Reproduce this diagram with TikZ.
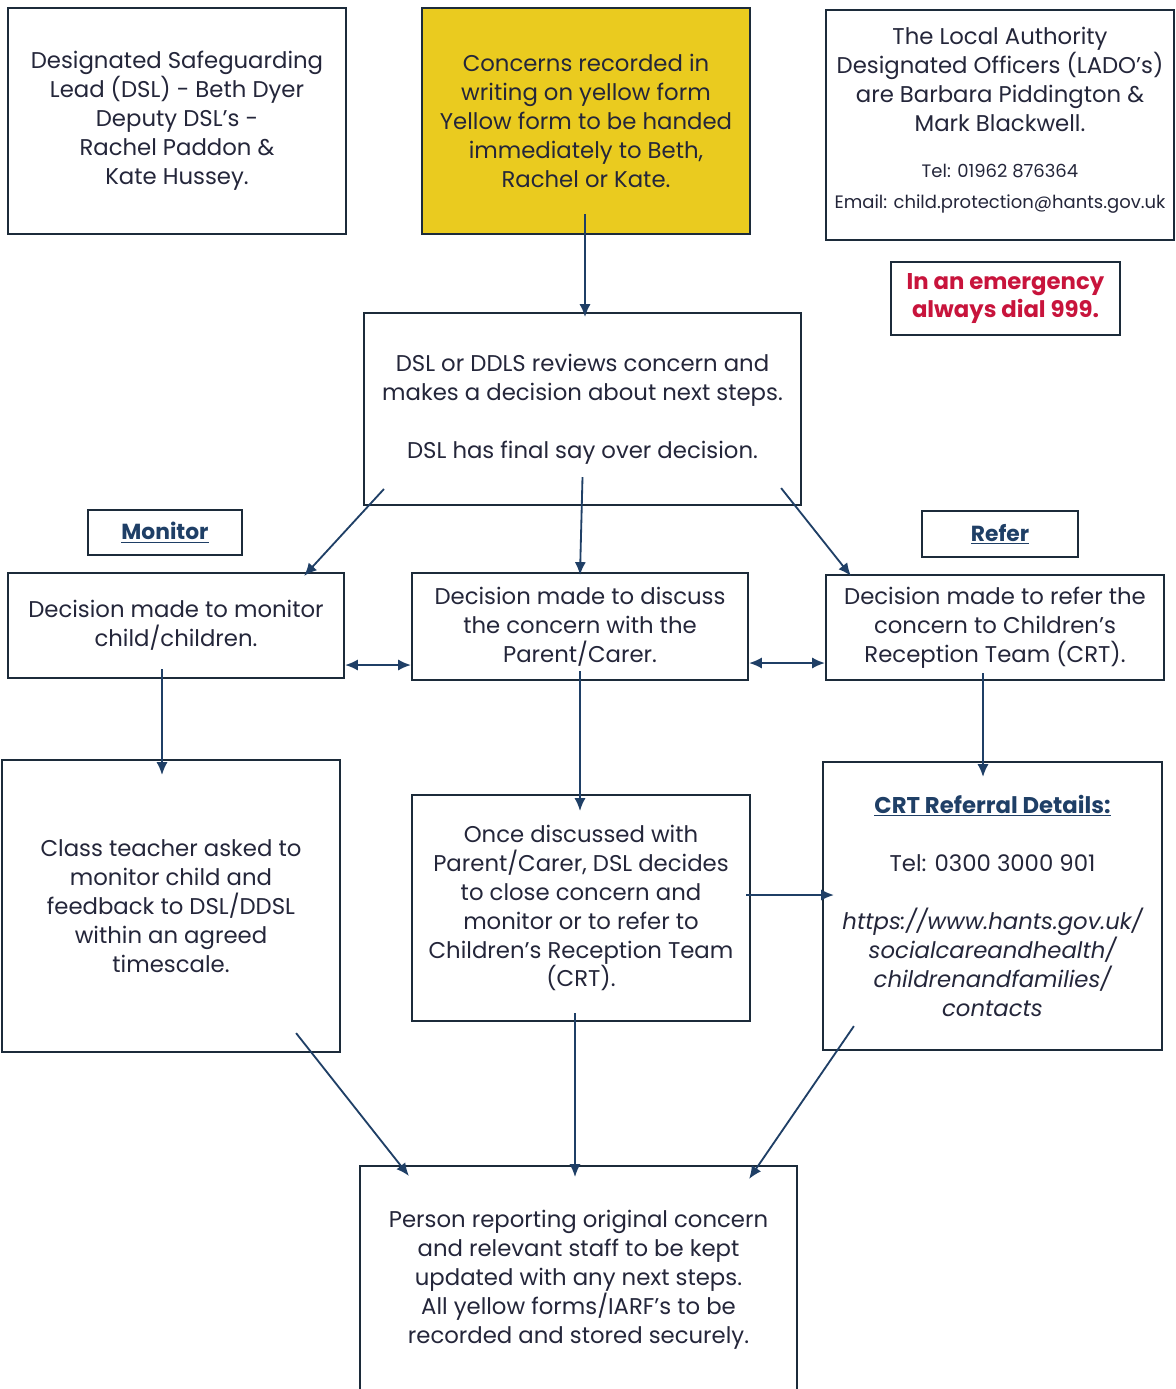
\documentclass[tikz,border=0pt]{standalone}
\usepackage{fontspec}
\setmainfont{Poppins}
\usetikzlibrary{arrows.meta}
\tikzset{>={Latex[width=2.8mm,length=3.2mm]}}
\definecolor{boxline}{HTML}{1C2B3A}
\definecolor{arrowline}{HTML}{1F3F66}
\definecolor{boxtext}{HTML}{24263A}
\definecolor{formyellow}{HTML}{EACB1F}
\definecolor{alertred}{HTML}{C8143C}

\begin{document}
\begin{tikzpicture}[x=0.025cm, y=-0.025cm, font=\fontsize{16.2}{20.6}\selectfont, box/.style={draw=boxline, line width=1.5pt, text=boxtext, align=center, inner sep=0pt}, yellowbox/.style={box, fill=formyellow}, tagbox/.style={box, font=\fontsize{15.5}{20.6}\selectfont\bfseries, text=arrowline}, redbox/.style={box, font=\fontsize{16.2}{20.6}\selectfont\bfseries, text=alertred}, link/.style={draw=arrowline, line width=1.3pt, ->}]

    \clip (0,0) rectangle (1176,1389);
    \fill[white] (0,0) rectangle (1176,1389);

    %Top row
    \node[box, minimum width=8.45cm, minimum height=5.65cm](dsl) at (177,121){Designated Safeguarding\\Lead (DSL) - Beth Dyer\\Deputy DSL's -\\Rachel Paddon \&\\Kate Hussey.};
    \node[yellowbox, minimum width=8.2cm, minimum height=5.65cm](concerns) at (586,121){Concerns recorded in\\writing on yellow form\\Yellow form to be handed\\immediately to Beth,\\Rachel or Kate.};
    \node[box, minimum width=8.7cm, minimum height=5.75cm](lado) at (1000,125){The Local Authority\\Designated Officers (LADO's)\\are Barbara Piddington \&\\Mark Blackwell.\\[0.42cm]{\fontsize{12.8}{16}\selectfont Tel: 01962 876364}\\[0.05cm]{\fontsize{12.8}{16}\selectfont Email: child.protection@hants.gov.uk}\\[-0.35cm]};
    \node[redbox, minimum width=5.725cm, minimum height=1.825cm](emergency) at (1005.5,298.5){In an emergency\\always dial 999.};

    %Review
    \node[box, minimum width=10.925cm, minimum height=4.8cm](review) at (582.5,409){DSL or DDLS reviews concern and\\makes a decision about next steps.\\[0.725cm]DSL has final say over decision.};

    %Decisions
    \node[tagbox, minimum width=3.85cm, minimum height=1.125cm](monitor_tag) at (165,532.5){\underline{Monitor}};
    \node[tagbox, minimum width=3.9cm, minimum height=1.15cm](refer_tag) at (1000,534){\underline{Refer}};
    \node[box, minimum width=8.4cm, minimum height=2.625cm](monitor) at (176,625.5){Decision made to monitor\\child/children.};
    \node[box, minimum width=8.4cm, minimum height=2.675cm](discuss) at (580,626.5){Decision made to discuss\\the concern with the\\Parent/Carer.};
    \node[box, minimum width=8.45cm, minimum height=2.625cm](refer) at (995,627.5){Decision made to refer the\\concern to Children's\\Reception Team (CRT).};

    %Follow up
    \node[box, minimum width=8.45cm, minimum height=7.3cm](teacher) at (171,906){Class teacher asked to\\monitor child and\\feedback to DSL/DDSL\\within an agreed\\timescale.};
    \node[box, minimum width=8.45cm, minimum height=5.65cm](discussed) at (581,908){Once discussed with\\Parent/Carer, DSL decides\\to close concern and\\monitor or to refer to\\Children's Reception Team\\(CRT).};
    \node[box, minimum width=8.475cm, minimum height=7.2cm](crt) at (992.5,906){{\bfseries\color{arrowline}\underline{CRT Referral Details:}}\\[0.725cm]Tel: 0300 3000 901\\[0.725cm]\itshape https://www.hants.gov.uk/\\\itshape socialcareandhealth/\\\itshape childrenandfamilies/\\\itshape contacts};

    %Final
    \node[box, minimum width=10.925cm, minimum height=5.7cm](update) at (578.5,1280){Person reporting original concern\\and relevant staff to be kept\\updated with any next steps.\\All yellow forms/IARF's to be\\recorded and stored securely.};

    %Lines
    \draw[link] ([shift={(-1,-21)}]concerns.south) -- ([shift={(2.5,5)}]review.north);
    \draw[link] ([shift={(21,-17)}]review.south west) -- ([shift={(-41,4)}]monitor.north east);
    \draw[link] ([shift={(0,-29)}]review.south) -- ([shift={(0,3)}]discuss.north);
    \draw[link] ([shift={(-21,-18)}]review.south east) -- ([shift={(26,2)}]refer.north west);
    \draw[link, <->] ([shift={(0,39.5)}]monitor.east) -- ([shift={(0,38.5)}]discuss.west);
    \draw[link, <->] ([shift={(0,36.5)}]discuss.east) -- ([shift={(0,35.5)}]refer.west);
    \draw[link] ([shift={(-14,-10)}]monitor.south) -- ([shift={(-9,16)}]teacher.north);
    \draw[link] ([shift={(0,-10)}]discuss.south) -- ([shift={(-1,17)}]discussed.north);
    \draw[link] ([shift={(-12,-8)}]refer.south) -- ([shift={(-9.5,16)}]crt.north);
    \draw[link] ([shift={(-5,-13)}]discussed.east) -- ([shift={(12,-11)}]crt.west);
    \draw[link] ([shift={(-45,-20)}]teacher.south east) -- ([shift={(50,11)}]update.north west);
    \draw[link] ([shift={(-6,-9)}]discussed.south) -- ([shift={(-3.5,12)}]update.north);
    \draw[link] ([shift={(32,-25)}]crt.south west) -- ([shift={(-49,14)}]update.north east);

\end{tikzpicture}
\end{document}
